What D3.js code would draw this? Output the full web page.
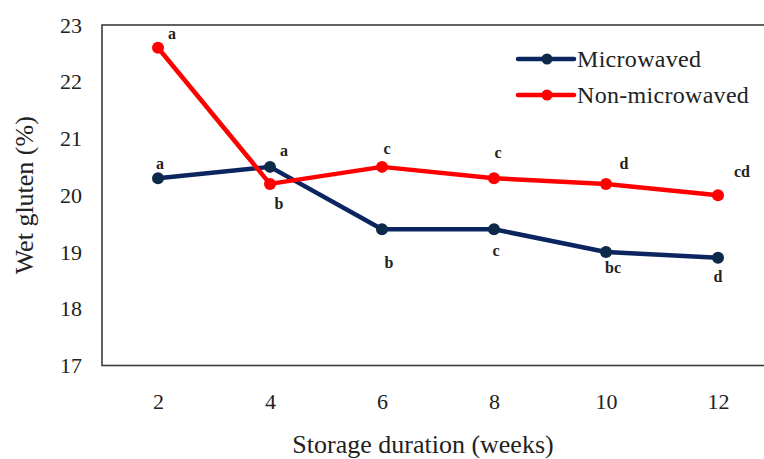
<!DOCTYPE html>
<html><head><meta charset="utf-8">
<script src="https://cdn.jsdelivr.net/npm/d3@7"></script>
<style>body{margin:0;background:#fff}svg{display:block}svg text{font-family:"Liberation Serif","Times New Roman",serif}</style>
</head><body><div id="chart"></div>
<script>
const weeks = ["2","4","6","8","10","12"];
const microwaved = [20.3, 20.5, 19.4, 19.4, 19.0, 18.9];
const nonMicrowaved = [22.6, 20.2, 20.5, 20.3, 20.2, 20.0];
const microLetters = ["a","a","b","c","bc","d"];
const nonMicroLetters = ["a","b","c","c","d","cd"];
const yTicks = [17,18,19,20,21,22,23];
const seriesNames = ["Microwaved","Non-microwaved"];

// layout-only label offsets (px from marker)
const microOffsets = [[2,-15],[14,-16],[7,33],[2,21],[7,15],[0,19]];
const nonOffsets = [[14,-14],[9,20],[5,-18],[4,-26],[18,-20],[24,-24]];

const W = 764, H = 459;
const m = {left:102, top:25, right:774, bottom:365.5};
const svg = d3.select("#chart").append("svg").attr("width",W).attr("height",H);
const font = '"Liberation Serif","Times New Roman",serif';

const x = d3.scalePoint().domain(weeks).range([m.left, m.right]).padding(0.5);
const y = d3.scaleLinear().domain([17,23]).range([m.bottom, m.top]);

// frame
svg.append("rect").attr("x",m.left).attr("y",m.top).attr("width",m.right-m.left).attr("height",m.bottom-m.top)
  .attr("fill","none").attr("stroke","#3c3c3c").attr("stroke-width",1.6);

// y axis
const ya = svg.append("g").attr("transform",`translate(${m.left},0)`)
  .call(d3.axisLeft(y).tickValues(yTicks).tickSize(0).tickPadding(20).tickFormat(d3.format("d")));
ya.select(".domain").remove();
ya.selectAll("text").style("font-family",font).style("font-size","22px").attr("fill","#222");

// x axis
const xa = svg.append("g").attr("transform",`translate(0,${m.bottom})`)
  .call(d3.axisBottom(x).tickSize(0).tickPadding(28));
xa.select(".domain").remove();
xa.selectAll("text").style("font-family",font).style("font-size","22px").attr("fill","#222");

// titles
svg.append("text").attr("x",423).attr("y",453).attr("text-anchor","middle")
  .style("font-family",font).style("font-size","26px").attr("fill","#222").text("Storage duration (weeks)");
svg.append("text").attr("transform",`translate(33,${(m.top+m.bottom)/2}) rotate(-90)`).attr("text-anchor","middle")
  .style("font-family",font).style("font-size","26px").attr("fill","#222").text("Wet gluten (%)");

const series = [
  {name:seriesNames[0], vals:microwaved, letters:microLetters, off:microOffsets, color:"#0b2560", marker:"#0e2a4a"},
  {name:seriesNames[1], vals:nonMicrowaved, letters:nonMicroLetters, off:nonOffsets, color:"#ff0000", marker:"#ff0000"}
];
const line = d3.line().x((d,i)=>x(weeks[i])).y(d=>y(d));

series.forEach(s=>{
  svg.append("path").datum(s.vals).attr("d",line).attr("fill","none")
    .attr("stroke",s.color).attr("stroke-width",4.5).attr("stroke-linejoin","round");
  svg.selectAll(null).data(s.vals).enter().append("circle")
    .attr("cx",(d,i)=>x(weeks[i])).attr("cy",d=>y(d)).attr("r",6).attr("fill",s.marker);
});
series.forEach(s=>{
  svg.selectAll(null).data(s.vals).enter().append("text")
    .attr("x",(d,i)=>x(weeks[i])+s.off[i][0]).attr("y",(d,i)=>y(d)+s.off[i][1])
    .attr("text-anchor","middle").attr("dominant-baseline","central")
    .style("font-family",font).style("font-weight","bold").style("font-size","16px").attr("fill","#222")
    .text((d,i)=>s.letters[i]);
});

// legend
series.forEach((s,i)=>{
  const ly = 59 + i*36;
  svg.append("line").attr("x1",518).attr("x2",574).attr("y1",ly).attr("y2",ly)
    .attr("stroke",s.color).attr("stroke-width",4.5).attr("stroke-linecap","round");
  svg.append("circle").attr("cx",547).attr("cy",ly).attr("r",5.5).attr("fill",s.marker);
  svg.append("text").attr("x",577).attr("y",ly).attr("dominant-baseline","central")
    .style("font-family",font).style("font-size","24px").style("letter-spacing","0.3px").attr("fill","#222").text(s.name);
});
</script></body></html>
